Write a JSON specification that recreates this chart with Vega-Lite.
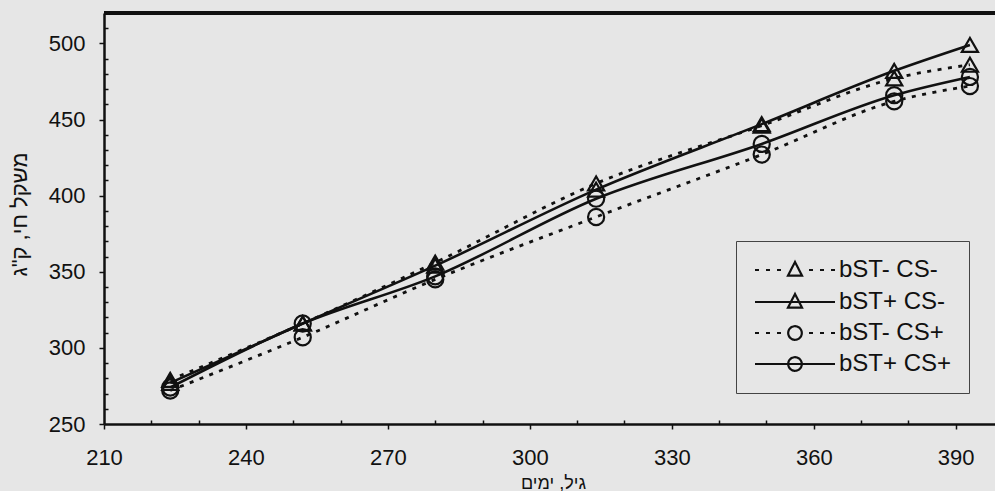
{
  "$schema": "https://vega.github.io/schema/vega-lite/v6.json",
  "width": 891,
  "height": 411,
  "autosize": {"type": "none"},
  "padding": {"left": 104, "top": 13, "right": 0, "bottom": 67},
  "background": "#e6e6e6",
  "config": {"view": {"stroke": null}, "font": "Liberation Sans"},
  "data": {
    "values": [
      {"series": "bST- CS-", "age": 224, "weight": 279},
      {"series": "bST- CS-", "age": 252, "weight": 316},
      {"series": "bST- CS-", "age": 280, "weight": 356},
      {"series": "bST- CS-", "age": 314, "weight": 408},
      {"series": "bST- CS-", "age": 349, "weight": 446},
      {"series": "bST- CS-", "age": 377, "weight": 477},
      {"series": "bST- CS-", "age": 393, "weight": 486},
      {"series": "bST+ CS-", "age": 224, "weight": 277},
      {"series": "bST+ CS-", "age": 252, "weight": 316},
      {"series": "bST+ CS-", "age": 280, "weight": 354},
      {"series": "bST+ CS-", "age": 314, "weight": 404},
      {"series": "bST+ CS-", "age": 349, "weight": 447},
      {"series": "bST+ CS-", "age": 377, "weight": 482},
      {"series": "bST+ CS-", "age": 393, "weight": 499},
      {"series": "bST- CS+", "age": 224, "weight": 272},
      {"series": "bST- CS+", "age": 252, "weight": 307},
      {"series": "bST- CS+", "age": 280, "weight": 345},
      {"series": "bST- CS+", "age": 314, "weight": 386},
      {"series": "bST- CS+", "age": 349, "weight": 427},
      {"series": "bST- CS+", "age": 377, "weight": 462},
      {"series": "bST- CS+", "age": 393, "weight": 472},
      {"series": "bST+ CS+", "age": 224, "weight": 274},
      {"series": "bST+ CS+", "age": 252, "weight": 316},
      {"series": "bST+ CS+", "age": 280, "weight": 347},
      {"series": "bST+ CS+", "age": 314, "weight": 398},
      {"series": "bST+ CS+", "age": 349, "weight": 434},
      {"series": "bST+ CS+", "age": 377, "weight": 466},
      {"series": "bST+ CS+", "age": 393, "weight": 478}
    ]
  },
  "encoding": {
    "x": {
      "field": "age",
      "type": "quantitative",
      "scale": {"domain": [210, 398.3], "nice": false, "zero": false},
      "axis": {
        "values": [210, 220, 230, 240, 250, 260, 270, 280, 290, 300, 310, 320, 330, 340, 350, 360, 370, 380, 390],
        "labelExpr": "datum.value % 30 === 0 ? datum.label : ''",
        "tickSize": {"condition": {"test": "datum.value % 30 === 0", "value": 5}, "value": -4},
        "tickColor": "#111",
        "tickWidth": 1.5,
        "domainColor": "#111",
        "domainWidth": 2.5,
        "grid": false,
        "labelFont": "Liberation Sans",
        "labelFontSize": 22,
        "labelColor": "#111",
        "labelPadding": 18,
        "labelOverlap": false,
        "labelFlush": false,
        "title": "גיל, ימים",
        "titleFont": "Liberation Sans",
        "titleFontSize": 18,
        "titleFontWeight": "normal",
        "titleColor": "#111",
        "titleX": 449,
        "titleY": 50,
        "titleBaseline": "top"
      }
    },
    "y": {
      "field": "weight",
      "type": "quantitative",
      "scale": {"domain": [250, 520], "nice": false, "zero": false},
      "axis": {
        "values": [250, 260, 270, 280, 290, 300, 310, 320, 330, 340, 350, 360, 370, 380, 390, 400, 410, 420, 430, 440, 450, 460, 470, 480, 490, 500, 510],
        "labelExpr": "datum.value % 50 === 0 ? datum.label : ''",
        "tickSize": {"condition": {"test": "datum.value % 50 === 0", "value": 5}, "value": -4},
        "tickColor": "#111",
        "tickWidth": 1.5,
        "domainColor": "#111",
        "domainWidth": 2.5,
        "grid": false,
        "labelFont": "Liberation Sans",
        "labelFontSize": 22,
        "labelColor": "#111",
        "labelPadding": 14,
        "labelOverlap": false,
        "labelFlush": false,
        "title": "משקל חי, ק\"ג",
        "titleFont": "Liberation Sans",
        "titleFontSize": 22,
        "titleFontWeight": "normal",
        "titleColor": "#111",
        "titleAngle": -90,
        "titleX": -85,
        "titleY": 201,
        "titleAlign": "center",
        "titleBaseline": "middle"
      }
    }
  },
  "layer": [
    {
      "mark": {"type": "rule", "color": "#111", "strokeWidth": 2.5},
      "encoding": {"x": null, "y": {"datum": 520, "type": "quantitative"}}
    },
    {
      "transform": [{"filter": {"field": "series", "oneOf": ["bST- CS-", "bST- CS+"]}}],
      "mark": {"type": "line", "interpolate": "monotone", "strokeWidth": 2.8, "strokeDash": [4, 6.5]},
      "encoding": {
        "color": {
          "field": "series",
          "type": "nominal",
          "scale": {"domain": ["bST- CS-", "bST+ CS-", "bST- CS+", "bST+ CS+"], "range": ["#111111", "#111111", "#111111", "#111111"]},
          "legend": {
            "title": null,
            "orient": "none",
            "legendX": 632,
            "legendY": 228,
            "padding": 17,
            "fillColor": "#e6e6e6",
            "strokeColor": "#444",
            "symbolSize": 400,
            "symbolOffset": 30,
            "symbolStrokeWidth": 2.2,
            "symbolStrokeColor": "#111",
            "symbolFillColor": "transparent",
            "labelFont": "Liberation Sans",
            "labelFontSize": 24,
            "labelColor": "#111",
            "labelOffset": 32,
            "rowPadding": 7,
            "encode": {
              "symbols": {
                "update": {
                  "shape": {"signal": "datum.value === 'bST- CS-' ? 'M-4,0L-3.6,0M-2.9,0L-2.5,0M-1.8,0L-1.4,0M0,-0.8L-0.7,0.56L0.7,0.56Z M1.4,0L1.8,0M2.5,0L2.9,0M3.6,0L4,0' : datum.value === 'bST+ CS-' ? 'M-4,0L4,0M0,-0.8L-0.7,0.56L0.7,0.56Z' : datum.value === 'bST- CS+' ? 'M-4,0L-3.6,0M-2.9,0L-2.5,0M-1.8,0L-1.4,0M0.68,0A0.68,0.68 0 1,1 -0.68,0A0.68,0.68 0 1,1 0.68,0Z M1.4,0L1.8,0M2.5,0L2.9,0M3.6,0L4,0' : 'M-4,0L4,0M0.68,0A0.68,0.68 0 1,1 -0.68,0A0.68,0.68 0 1,1 0.68,0Z'"},
                  "strokeDash": {"value": [1, 0]},
                  "stroke": {"value": "#111"},
                  "fill": {"value": "transparent"},
                  "size": {"value": 400},
                  "strokeWidth": {"value": 2.2},
                  "opacity": {"value": 1}
                }
              }
            }
          }
        }
      }
    },
    {
      "transform": [{"filter": {"field": "series", "oneOf": ["bST+ CS-", "bST+ CS+"]}}],
      "mark": {"type": "line", "interpolate": "monotone", "strokeWidth": 2.6},
      "encoding": {
        "color": {"field": "series", "type": "nominal"}
      }
    },
    {
      "mark": {"type": "point", "filled": false, "stroke": "#111", "strokeWidth": 2.2, "size": 260, "opacity": 1},
      "encoding": {
        "shape": {
          "field": "series",
          "type": "nominal",
          "scale": {"domain": ["bST- CS+", "bST+ CS+", "bST- CS-", "bST+ CS-"], "range": ["circle", "circle", "triangle-up", "triangle-up"]},
          "legend": null
        }
      }
    }
  ]
}
